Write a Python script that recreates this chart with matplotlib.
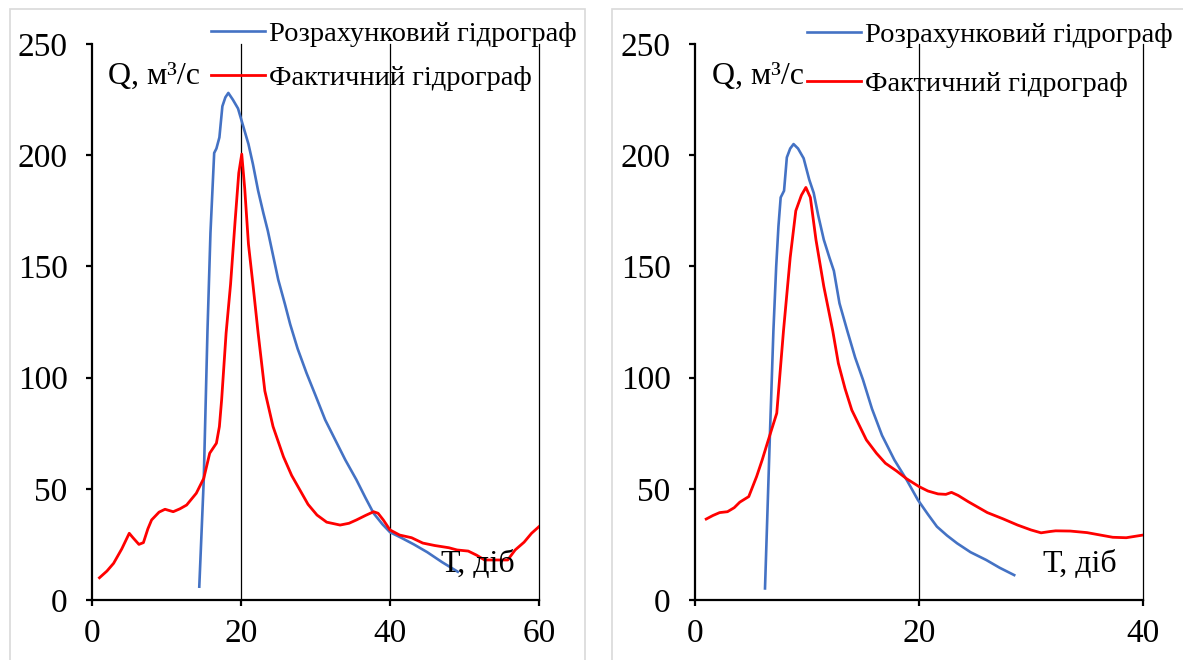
import matplotlib
matplotlib.use("Agg")
import matplotlib.pyplot as plt
from matplotlib.patches import Rectangle
from matplotlib.lines import Line2D

plt.rcParams['font.family'] = ['Liberation Serif', 'DejaVu Serif']

# ---- Left panel: hydrographs (60 days) ----
left_calc_t = [14.4, 15.0, 15.5, 15.9, 16.4, 16.7, 17.1, 17.5, 17.9, 18.3, 18.9, 19.6,
               20.3, 21.0, 21.6, 22.3, 23.0, 23.6, 24.3, 25.0, 25.9, 26.6, 27.6, 28.8,
               30.0, 31.3, 32.5, 34.0, 35.5, 36.7, 37.8, 39.0, 40.0, 41.5, 43.2, 45.0,
               47.0, 49.1]
left_calc_q = [6, 54, 121, 165, 201, 203, 208, 222, 226, 228, 225, 221,
               213, 205, 196, 184, 174, 166, 155, 144, 133, 124, 113, 102,
               92, 81, 73, 63, 54, 46, 39, 34, 30.5, 28, 25, 21.5,
               17, 12.7]

left_fact_t = [1.0, 2.0, 2.9, 4.0, 5.0, 5.5, 6.3, 6.9, 7.5, 8.0, 9.0, 9.8, 10.9, 11.8,
               12.7, 14.0, 15.0, 15.8, 16.7, 17.1, 17.4, 18.0, 18.6, 19.2, 19.7, 20.1,
               20.5, 21.0, 21.6, 22.3, 23.2, 24.3, 25.7, 26.8, 27.9, 29.0, 30.2, 31.5,
               33.3, 34.5, 35.5, 36.7, 37.8, 38.4, 39.1, 40.0, 41.3, 42.9, 44.4, 46.0,
               47.9, 49.0, 50.5, 51.6, 52.7, 54.0, 55.8, 56.8, 58.0, 59.0, 60.0]
left_fact_q = [10, 13, 16.5, 23, 30, 28, 25, 25.8, 32, 36, 39.5, 40.8, 39.7, 41,
               42.7, 48, 54.7, 66, 70.5, 78, 90, 120, 142, 170, 192, 200.5,
               185, 160, 142, 120, 94, 78, 64.4, 56, 49.5, 43, 38.2, 35,
               33.7, 34.5, 36, 38, 39.7, 39, 36, 31.5, 29.2, 28, 25.6, 24.5,
               23.5, 22.5, 22, 20.2, 18, 18, 18, 22.5, 26, 30, 33]

# ---- Right panel: hydrographs (40 days) ----
right_calc_t = [6.25, 6.7, 7.0, 7.25, 7.45, 7.65, 7.95, 8.2, 8.5, 8.8, 9.2, 9.7, 10.2,
                10.6, 11.0, 11.5, 12.0, 12.4, 12.9, 13.6, 14.3, 15.0, 15.8, 16.7, 17.8,
                18.9, 19.9, 20.8, 21.6, 22.5, 23.4, 24.6, 26.0, 27.2, 28.5]
right_calc_q = [5.2, 76, 121, 150, 168, 181, 184, 199, 203, 205, 203, 198.6, 189,
                183, 173, 162, 154, 148, 133.4, 121, 109, 99, 86, 74, 63,
                54, 45, 38.5, 33, 29, 25.5, 21.5, 18, 14.5, 11.2]

right_fact_t = [1.0, 1.6, 2.2, 2.9, 3.5, 4.0, 4.8, 5.5, 6.0, 6.5, 7.3, 7.9, 8.5, 9.0,
                9.5, 9.9, 10.3, 10.8, 11.5, 12.3, 12.8, 13.4, 14.0, 15.3, 16.2, 17.0,
                18.0, 18.9, 20.0, 20.8, 21.7, 22.4, 22.9, 23.5, 24.4, 26.1, 27.5, 28.8,
                30.0, 30.9, 31.7, 32.2, 33.5, 35.0, 36.2, 37.3, 38.5, 40.0]
right_fact_q = [36.4, 38, 39.3, 39.7, 41.5, 44, 46.5, 55.5, 63, 71.2, 84, 121, 154, 175,
                182, 185.5, 181, 162, 141, 121, 106.4, 95, 85.4, 72, 66, 61.5,
                58, 54.5, 51, 49, 47.7, 47.5, 48.4, 47, 44.2, 39.3, 36.5, 33.7,
                31.5, 30.2, 30.8, 31.1, 31, 30.3, 29.2, 28.2, 28, 29.2]

y_ticks = [0, 50, 100, 150, 200, 250]
left_x_ticks = [0, 20, 40, 60]
right_x_ticks = [0, 20, 40]

label_calc = "Розрахунковий гідрограф"
label_fact = "Фактичний гідрограф"
y_label = "Q, м³/с"
x_label = "Т, діб"

BLUE = "#4472C4"
RED = "#FF0000"

W, H = 1183, 660
fig = plt.figure(figsize=(W / 100, H / 100), dpi=100)

# panel frames
for x0, x1 in [(10, 585), (612, 1190)]:
    fig.add_artist(Rectangle((x0 / W, -0.05), (x1 - x0) / W, 1.05 - 9 / H,
                             transform=fig.transFigure, fill=False,
                             edgecolor="#D9D9D9", linewidth=1.2))


def make_panel(left_px, right_px, xmax, xticks, calc_t, calc_q, fact_t, fact_q,
               leg_x, leg_y, leg_dy, q_pos, t_pos):
    ax = fig.add_axes([left_px / W, (H - 600) / H, (right_px - left_px) / W, 556 / H])
    ax.plot(calc_t, calc_q, color=BLUE, lw=1.9, solid_joinstyle="round")
    ax.plot(fact_t, fact_q, color=RED, lw=2.0, solid_joinstyle="round")
    ax.set_xlim(0, xmax)
    ax.set_ylim(0, 250)
    ax.set_xticks(xticks)
    ax.set_yticks(y_ticks)
    for t in xticks[1:]:
        ax.axvline(t, color="black", lw=0.9, zorder=0, clip_on=False)
    for s in ["top", "right"]:
        ax.spines[s].set_visible(False)
    for s in ["left", "bottom"]:
        ax.spines[s].set_linewidth(1.6)
    ax.tick_params(axis="y", direction="out", length=4.5, width=1.6, labelsize=24, pad=13)
    ax.tick_params(axis="x", direction="out", length=4, width=1.6, labelsize=24, pad=9)
    ax.patch.set_alpha(0)

    # legend entries
    handles = [Line2D([], [], color=BLUE, lw=1.9), Line2D([], [], color=RED, lw=2.0)]
    ax.legend(handles, [label_calc, label_fact], loc="upper left",
              bbox_to_anchor=(leg_x / W, 1 - leg_y / H), bbox_transform=fig.transFigure,
              frameon=False, fontsize=20.5, handlelength=1.9, handletextpad=0.12,
              labelspacing=leg_dy, borderaxespad=0, borderpad=0)
    fig.text(q_pos[0] / W, 1 - q_pos[1] / H, y_label, fontsize=23,
             ha="left", va="center")
    fig.text(t_pos[0] / W, 1 - t_pos[1] / H, x_label, fontsize=23,
             ha="left", va="center")
    return ax


make_panel(92, 539, 60, left_x_ticks, left_calc_t, left_calc_q, left_fact_t, left_fact_q,
           211, 21, 0.65, (108, 76), (441, 564))
make_panel(695, 1143, 40, right_x_ticks, right_calc_t, right_calc_q, right_fact_t,
           right_fact_q, 807, 22, 0.8, (712, 76), (1043, 564))

fig.savefig("out.png", dpi=100, facecolor="white")
